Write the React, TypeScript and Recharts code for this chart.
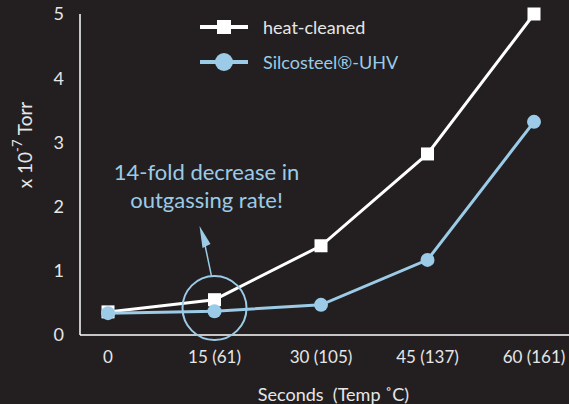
import React from 'react';
import { LineChart, Line, XAxis, YAxis, ReferenceDot, Label } from 'recharts';

const categories = ['0', '15 (61)', '30 (105)', '45 (137)', '60 (161)'];
const heatCleaned = [0.36, 0.55, 1.39, 2.82, 5.0];
const silcosteel = [0.34, 0.37, 0.47, 1.17, 3.32];
const yTicks = [0, 1, 2, 3, 4, 5];

const BG = '#231f20';
const WHITE = '#ffffff';
const TEXT = '#e6e6e6';
const BLUE = '#9bcbe7';
const FONT = 'Lato, "Open Sans", sans-serif';

const data = categories.map((c, i) => ({ cat: c, heat: heatCleaned[i], silco: silcosteel[i] }));

const SquareDot = ({ cx, cy }: any) => (
  <rect x={cx - 6.5} y={cy - 6.5} width={13} height={13} fill={WHITE} />
);

// circle around the 15 s point, arrow and callout text
const Callout = ({ cx, cy }: any) => (
  <g>
    <circle cx={cx} cy={cy} r={32} fill="none" stroke={BLUE} strokeWidth={2} />
    <line x1={cx - 3} y1={cy - 32} x2={cx - 11} y2={cy - 70} stroke={BLUE} strokeWidth={1.5} />
    <polygon points={`${cx - 15},${cy - 82} ${cx - 12},${cy - 60} ${cx - 4},${cy - 64}`} fill={BLUE} />
    <text x={cx - 8} y={cy - 137} textAnchor="middle" dominantBaseline="central" fill={BLUE} fontFamily={FONT} fontSize={22}>
      14-fold decrease in
    </text>
    <text x={cx - 8} y={cy - 109} textAnchor="middle" dominantBaseline="central" fill={BLUE} fontFamily={FONT} fontSize={22}>
      outgassing rate!
    </text>
  </g>
);

const LegendBox = () => (
  <div style={{ position: 'absolute', top: 9, left: 198, fontFamily: FONT, fontSize: 18 }}>
    <div style={{ display: 'flex', alignItems: 'center', height: 35 }}>
      <svg width={52} height={20}>
        <line x1={2} y1={10} x2={50} y2={10} stroke={WHITE} strokeWidth={4} />
        <rect x={19} y={3} width={14} height={14} fill={WHITE} />
      </svg>
      <span style={{ color: TEXT, marginLeft: 13 }}>heat-cleaned</span>
    </div>
    <div style={{ display: 'flex', alignItems: 'center', height: 35 }}>
      <svg width={52} height={20}>
        <line x1={2} y1={10} x2={50} y2={10} stroke={BLUE} strokeWidth={4} />
        <circle cx={26} cy={10} r={9} fill={BLUE} />
      </svg>
      <span style={{ color: BLUE, marginLeft: 13 }}>Silcosteel®-UHV</span>
    </div>
  </div>
);

const YTitle = ({ viewBox }: any) => (
  <text
    x={24}
    y={viewBox.y + 131}
    transform={`rotate(-90, 24, ${viewBox.y + 131})`}
    textAnchor="middle"
    dominantBaseline="central"
    fill={TEXT}
    fontFamily={FONT}
    fontSize={19}
  >
    x 10<tspan dy={-7} fontSize={13}>-7</tspan>
    <tspan dy={7}> Torr</tspan>
  </text>
);

export default function App() {
  return (
    <div style={{ width: 569, height: 404, background: BG, position: 'relative' }}>
      <style>{'body{margin:0}'}</style>
      <LineChart width={569} height={404} data={data} margin={{ top: 14, right: 0, bottom: 0, left: 20 }}>
        <XAxis
          dataKey="cat"
          scale="point"
          padding={{ left: 28, right: 35 }}
          height={69}
          stroke={WHITE}
          strokeWidth={1.5}
          tickLine={false}
          tickSize={0}
          tickMargin={16}
          tick={{ fill: TEXT, fontFamily: FONT, fontSize: 17 }}
        >
          <Label
            value={'Seconds\u00a0\u00a0(Temp \u02daC)'}
            position="insideBottom"
            offset={3}
            dx={9}
            fill={TEXT}
            fontFamily={FONT}
            fontSize={18}
          />
        </XAxis>
        <YAxis
          width={60}
          domain={[0, 5]}
          ticks={yTicks}
          stroke={WHITE}
          strokeWidth={1.5}
          tickLine={false}
          tickSize={0}
          tickMargin={16}
          tick={{ fill: TEXT, fontFamily: FONT, fontSize: 18 }}
        >
          <Label content={<YTitle />} />
        </YAxis>
        <Line
          dataKey="heat"
          stroke={WHITE}
          strokeWidth={3}
          dot={<SquareDot />}
          activeDot={false}
          isAnimationActive={false}
          type="linear"
        />
        <Line
          dataKey="silco"
          stroke={BLUE}
          strokeWidth={3}
          dot={{ r: 7, fill: BLUE, stroke: 'none' }}
          activeDot={false}
          isAnimationActive={false}
          type="linear"
        />
        <ReferenceDot x="15 (61)" y={0.42} r={32} shape={<Callout />} />
      </LineChart>
      <LegendBox />
    </div>
  );
}
